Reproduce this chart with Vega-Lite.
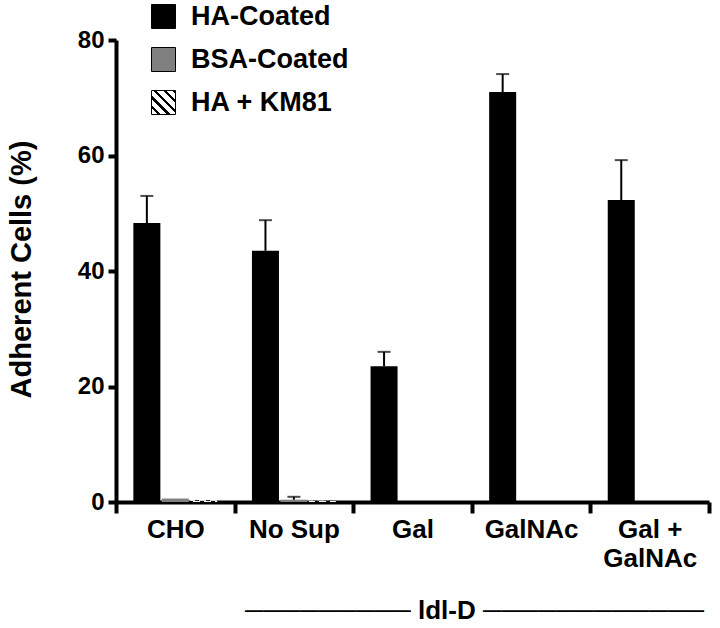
{
  "$schema": "https://vega.github.io/schema/vega-lite/v6.json",
  "width": 593,
  "height": 462,
  "autosize": {"type": "none"},
  "padding": {"left": 116, "top": 40, "right": 11, "bottom": 126},
  "background": "white",
  "config": {"view": {"stroke": null}, "font": "Liberation Sans"},
  "data": {
    "values": [
      {"group": "CHO", "series": "HA-Coated", "value": 48.3, "upper": 53.0},
      {"group": "CHO", "series": "BSA-Coated", "value": 0.6, "upper": null},
      {"group": "CHO", "series": "HA + KM81", "value": 0.3, "upper": null},
      {"group": "No Sup", "series": "HA-Coated", "value": 43.5, "upper": 48.8},
      {"group": "No Sup", "series": "BSA-Coated", "value": 0.4, "upper": 0.9},
      {"group": "No Sup", "series": "HA + KM81", "value": 0.2, "upper": null},
      {"group": "Gal", "series": "HA-Coated", "value": 23.5, "upper": 26.0},
      {"group": "Gal", "series": "BSA-Coated", "value": 0, "upper": null},
      {"group": "Gal", "series": "HA + KM81", "value": 0, "upper": null},
      {"group": "GalNAc", "series": "HA-Coated", "value": 71.0, "upper": 74.1},
      {"group": "GalNAc", "series": "BSA-Coated", "value": 0, "upper": null},
      {"group": "GalNAc", "series": "HA + KM81", "value": 0, "upper": null},
      {"group": "Gal + GalNAc", "series": "HA-Coated", "value": 52.3, "upper": 59.2},
      {"group": "Gal + GalNAc", "series": "BSA-Coated", "value": 0, "upper": null},
      {"group": "Gal + GalNAc", "series": "HA + KM81", "value": 0, "upper": null}
    ]
  },
  "layer": [
    {
      "mark": {"type": "bar"},
      "encoding": {
        "x": {
          "field": "group", "type": "nominal",
          "sort": ["CHO", "No Sup", "Gal", "GalNAc", "Gal + GalNAc"],
          "scale": {"paddingInner": 0, "paddingOuter": 0},
          "axis": {
            "title": "─────────  ldl-D  ────────────",
            "labelAngle": 0,
            "tickBand": "extent",
            "domainColor": "black", "domainWidth": 4,
            "tickColor": "black", "tickWidth": 4, "tickSize": 11,
            "labelFont": "Liberation Sans", "labelFontSize": 26, "labelFontWeight": "bold", "labelColor": "black",
            "labelPadding": 3, "labelBaseline": "top", "labelLineHeight": 29,
            "labelExpr": "datum.value == 'Gal + GalNAc' ? ['Gal +', 'GalNAc'] : datum.label",
            "titleFont": "Liberation Sans", "titleFontSize": 26, "titleFontWeight": "bold", "titleColor": "black",
            "titleX": 358, "titleY": 108, "titleAlign": "center", "titleBaseline": "middle"
          }
        },
        "xOffset": {
          "field": "series", "type": "nominal",
          "sort": ["HA-Coated", "BSA-Coated", "HA + KM81"],
          "scale": {"paddingInner": 0.05, "paddingOuter": 0.61}
        },
        "y": {
          "field": "value", "type": "quantitative",
          "scale": {"domain": [0, 80]},
          "axis": {
            "title": "Adherent Cells (%)",
            "values": [0, 20, 40, 60, 80],
            "grid": false,
            "domainColor": "black", "domainWidth": 4,
            "tickColor": "black", "tickWidth": 4, "tickSize": 8,
            "labelFont": "Liberation Sans", "labelFontSize": 24, "labelFontWeight": "bold", "labelColor": "black", "labelPadding": 4,
            "titleFont": "Liberation Sans", "titleFontSize": 29, "titleFontWeight": "bold", "titleColor": "black",
            "titleX": -95, "titleY": 229, "titleAlign": "center", "titleBaseline": "middle", "titleAngle": -90
          }
        },
        "fill": {
          "field": "series", "type": "nominal",
          "sort": ["HA-Coated", "BSA-Coated", "HA + KM81"],
          "scale": {
            "domain": ["HA-Coated", "BSA-Coated", "HA + KM81"],
            "range": ["black", "#808080", {"expr": "{gradient: 'linear', x1: 1, y1: 0, x2: 0, y2: 1, stops: [{offset: 0, color: 'black'}, {offset: 0.07, color: 'black'}, {offset: 0.07, color: 'white'}, {offset: 0.2, color: 'white'}, {offset: 0.2, color: 'black'}, {offset: 0.27, color: 'black'}, {offset: 0.27, color: 'white'}, {offset: 0.4, color: 'white'}, {offset: 0.4, color: 'black'}, {offset: 0.47, color: 'black'}, {offset: 0.47, color: 'white'}, {offset: 0.6, color: 'white'}, {offset: 0.6, color: 'black'}, {offset: 0.67, color: 'black'}, {offset: 0.67, color: 'white'}, {offset: 0.8, color: 'white'}, {offset: 0.8, color: 'black'}, {offset: 0.87, color: 'black'}, {offset: 0.87, color: 'white'}, {offset: 1, color: 'white'}]}"}]
          },
          "legend": {
            "orient": "none", "legendX": 34, "legendY": -37,
            "title": null,
            "symbolType": "square", "symbolSize": 576,
            "symbolStrokeColor": "black", "symbolStrokeWidth": 1, "symbolOpacity": 1,
            "labelFont": "Liberation Sans", "labelFontSize": 27, "labelFontWeight": "bold", "labelColor": "black",
            "labelOffset": 14, "rowPadding": 14
          }
        }
      }
    },
    {
      "transform": [{"filter": "isValid(datum.upper)"}],
      "mark": {"type": "rule", "strokeWidth": 2, "color": "black"},
      "encoding": {
        "x": {"field": "group", "type": "nominal", "sort": ["CHO", "No Sup", "Gal", "GalNAc", "Gal + GalNAc"]},
        "xOffset": {"field": "series", "type": "nominal", "sort": ["HA-Coated", "BSA-Coated", "HA + KM81"]},
        "y": {"field": "value", "type": "quantitative"},
        "y2": {"field": "upper"}
      }
    },
    {
      "transform": [{"filter": "isValid(datum.upper)"}],
      "mark": {"type": "tick", "size": 13, "thickness": 2, "color": "black"},
      "encoding": {
        "x": {"field": "group", "type": "nominal", "sort": ["CHO", "No Sup", "Gal", "GalNAc", "Gal + GalNAc"]},
        "xOffset": {"field": "series", "type": "nominal", "sort": ["HA-Coated", "BSA-Coated", "HA + KM81"]},
        "y": {"field": "upper", "type": "quantitative"}
      }
    }
  ]
}
